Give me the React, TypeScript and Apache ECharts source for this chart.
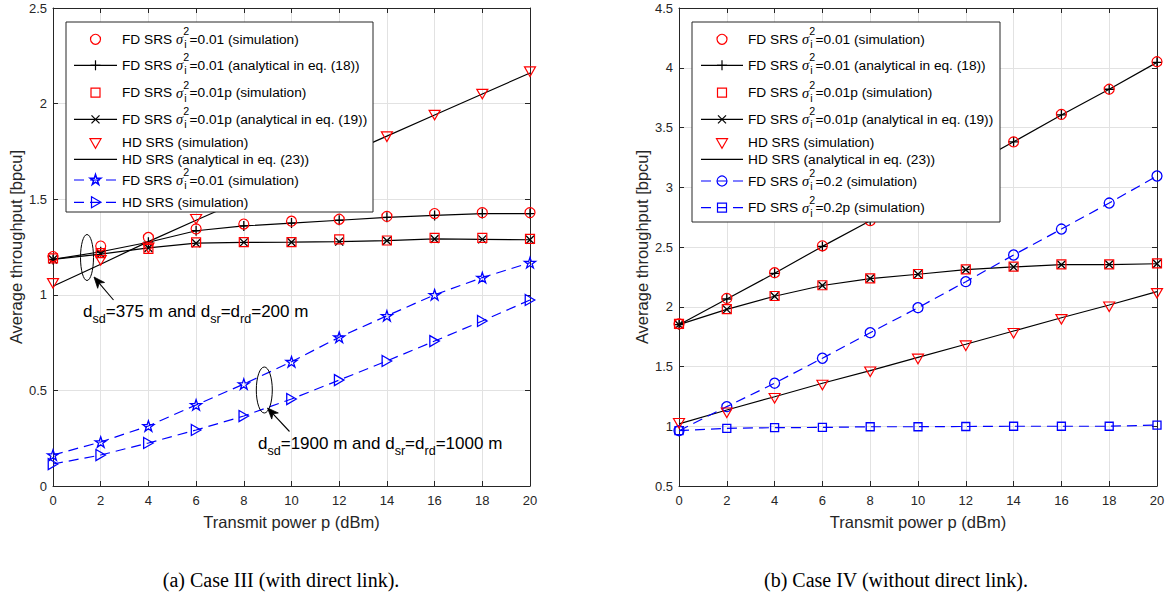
import React, { useEffect, useRef } from "react";
import * as echarts from "echarts";

// ---------- data ----------
const powerDbm = [0, 2, 4, 6, 8, 10, 12, 14, 16, 18, 20];
const yTicksCase3 = [0, 0.5, 1, 1.5, 2, 2.5];
const yTicksCase4 = [0.5, 1, 1.5, 2, 2.5, 3, 3.5, 4, 4.5];

// Case III (with direct link)
const c3FdSim = [1.2, 1.255, 1.3, 1.345, 1.37, 1.385, 1.395, 1.41, 1.425, 1.43, 1.43];
const c3FdAna = [1.185, 1.225, 1.275, 1.335, 1.36, 1.375, 1.39, 1.405, 1.415, 1.425, 1.425];
const c3FdPSim = [1.19, 1.218, 1.24, 1.274, 1.275, 1.276, 1.29, 1.284, 1.298, 1.298, 1.292];
const c3FdPAna = [1.185, 1.213, 1.245, 1.27, 1.274, 1.275, 1.278, 1.283, 1.292, 1.29, 1.288];
const c3HdSim = [1.06, 1.18, 1.245, 1.395, 1.5, 1.61, 1.72, 1.827, 1.94, 2.05, 2.167];
const c3HdAna = [1.045, 1.16, 1.278, 1.39, 1.5, 1.61, 1.72, 1.83, 1.94, 2.05, 2.16];
const c3FdFarSim = [0.162, 0.23, 0.314, 0.424, 0.533, 0.65, 0.778, 0.89, 1.0, 1.09, 1.168];
const c3HdFarSim = [0.115, 0.162, 0.225, 0.293, 0.366, 0.455, 0.554, 0.654, 0.758, 0.863, 0.973];

// Case IV (without direct link)
const c4FdSim = [1.856, 2.07, 2.285, 2.51, 2.72, 2.94, 3.16, 3.38, 3.61, 3.82, 4.05];
const c4FdAna = [1.85, 2.065, 2.28, 2.505, 2.72, 2.94, 3.16, 3.38, 3.605, 3.82, 4.045];
const c4FdPSim = [1.856, 1.98, 2.09, 2.18, 2.238, 2.274, 2.313, 2.335, 2.355, 2.355, 2.363];
const c4FdPAna = [1.85, 1.978, 2.088, 2.178, 2.236, 2.272, 2.31, 2.333, 2.352, 2.353, 2.36];
const c4HdSim = [1.025, 1.113, 1.234, 1.345, 1.456, 1.563, 1.674, 1.778, 1.895, 2.0, 2.112];
const c4HdAna = [1.02, 1.136, 1.247, 1.36, 1.465, 1.577, 1.686, 1.797, 1.908, 2.015, 2.126];
const c4Fd02Sim = [0.963, 1.164, 1.36, 1.569, 1.783, 1.992, 2.21, 2.433, 2.65, 2.868, 3.094];
const c4Fd02PSim = [0.963, 0.983, 0.988, 0.99, 0.996, 0.996, 0.998, 1.0, 1.0, 1.0, 1.01];

const xTitle = "Transmit power p (dBm)";
const yTitle = "Average throughput [bpcu]";
const captions = ["(a) Case III (with direct link).", "(b) Case IV (without direct link)."];

// ---------- style ----------
const RED = "#ff0000";
const BLUE = "#0000ff";
const BLACK = "#000000";
const AX = "#262626";
const GRIDC = "#e2e2e2";
const SANS = '"Liberation Sans", Arial, Helvetica, sans-serif';
const SERIF = '"Liberation Serif", "Times New Roman", serif';

const PLUS = "path://M5,0L5,10M0,5L10,5";
const CROSS = "path://M0,0L10,10M10,0L0,10";
const TRI_DOWN = "path://M0,0L10,0L5,8.66Z";
const TRI_RIGHT = "path://M0,0L8.66,5L0,10Z";
function starPts(cx: number, cy: number, R: number) {
  const pts: number[][] = [];
  for (let k = 0; k < 10; k++) {
    const r = k % 2 === 0 ? R : R * 0.382;
    const a = -Math.PI / 2 + (k * Math.PI) / 5;
    pts.push([cx + r * Math.cos(a), cy + r * Math.sin(a)]);
  }
  return pts;
}
const STAR = "path://" + starPts(5, 5, 5).map((p, i) => (i === 0 ? "M" : "L") + p[0].toFixed(2) + "," + p[1].toFixed(2)).join("") + "Z";

const pairs = (ys: number[]) => powerDbm.map((x, i) => [x, ys[i]]);

function sim(ys: number[], symbol: string, size: number, color: string, xi: number, yi: number) {
  return {
    type: "scatter",
    data: pairs(ys),
    symbol,
    symbolSize: size,
    symbolKeepAspect: true,
    xAxisIndex: xi,
    yAxisIndex: yi,
    clip: false,
    itemStyle: { color: "transparent", borderColor: color, borderWidth: 1.2, opacity: 1 },
    emphasis: { disabled: true },
    z: 4,
  };
}
function ana(ys: number[], symbol: string | null, size: number, color: string, xi: number, yi: number, dashed = false) {
  return {
    type: "line",
    data: pairs(ys),
    symbol: symbol ?? "none",
    symbolSize: size,
    showSymbol: !!symbol,
    showAllSymbol: true,
    symbolKeepAspect: true,
    xAxisIndex: xi,
    yAxisIndex: yi,
    clip: false,
    lineStyle: { color, width: 1.2, type: dashed ? [10, 6] : "solid" },
    itemStyle: { color: "transparent", borderColor: color, borderWidth: 1.3 },
    emphasis: { disabled: true },
    z: 3,
  };
}

// ---------- text helpers ----------
let ctx: CanvasRenderingContext2D | null = null;
function measure(t: string, size: number, family: string, style = "normal") {
  if (!ctx) ctx = document.createElement("canvas").getContext("2d");
  ctx!.font = `${style} ${size}px ${family}`;
  return ctx!.measureText(t).width;
}
function txt(x: number, y: number, t: string, size: number, family: string, style = "normal", z = 101, align = "left") {
  return {
    type: "text",
    x,
    y,
    z,
    style: { text: t, fontSize: size, fontFamily: family, fontStyle: style, fill: BLACK, textAlign: align, textVerticalAlign: "middle" },
  };
}
type Seg = { t?: string; italic?: boolean; family?: string; size?: number; sup?: string; sub?: string; subOnly?: string };
function run(x0: number, y: number, segs: Seg[], base: number, family: string, z = 101) {
  const out: any[] = [];
  let x = x0;
  for (const s of segs) {
    if (s.sup !== undefined) {
      const ss = base * 0.78;
      const w1 = measure(s.sup, ss, family);
      const w2 = measure(s.sub || "", ss, family);
      out.push(txt(x, y - 8, s.sup, ss, family, "normal", z));
      out.push(txt(x + 1, y + 5, s.sub || "", ss, family, "normal", z));
      x += Math.max(w1, w2 + 1) + 0.5;
    } else if (s.subOnly !== undefined) {
      const ss = base * 0.74;
      out.push(txt(x, y + 8, s.subOnly, ss, family, "normal", z));
      x += measure(s.subOnly, ss, family);
    } else {
      const fam = s.family ?? family;
      const size = s.size ?? base;
      const st = s.italic ? "italic" : "normal";
      out.push(txt(x, y, s.t || "", size, fam, st, z));
      x += measure(s.t || "", size, fam, st);
    }
  }
  return out;
}

function marker(kind: string | null, cx: number, cy: number, color: string) {
  const st = { fill: "none", stroke: color, lineWidth: 1.2 };
  const z = 102;
  switch (kind) {
    case "circle":
      return [{ type: "circle", z, shape: { cx, cy, r: 5 }, style: st }];
    case "square":
      return [{ type: "rect", z, shape: { x: cx - 4.5, y: cy - 4.5, width: 9, height: 9 }, style: st }];
    case "triDown":
      return [{ type: "polygon", z, shape: { points: [[cx - 5.5, cy - 4], [cx + 5.5, cy - 4], [cx, cy + 5.5]] }, style: st }];
    case "triRight":
      return [{ type: "polygon", z, shape: { points: [[cx - 4, cy - 5.5], [cx + 5.5, cy], [cx - 4, cy + 5.5]] }, style: st }];
    case "plus":
      return [
        { type: "line", z, shape: { x1: cx - 5, y1: cy, x2: cx + 5, y2: cy }, style: st },
        { type: "line", z, shape: { x1: cx, y1: cy - 5, x2: cx, y2: cy + 5 }, style: st },
      ];
    case "cross":
      return [
        { type: "line", z, shape: { x1: cx - 4, y1: cy - 4, x2: cx + 4, y2: cy + 4 }, style: st },
        { type: "line", z, shape: { x1: cx + 4, y1: cy - 4, x2: cx - 4, y2: cy + 4 }, style: st },
      ];
    case "star":
      return [{ type: "polygon", z, shape: { points: starPts(cx, cy, 5.5) }, style: { ...st, lineWidth: 1.5 } }];
    default:
      return [];
  }
}

type Row = { y: number; kind: string | null; color: string; line: null | "solid" | "dashed"; segs: Seg[] };
const sig = (rest: string): Seg[] => [{ t: "FD SRS " }, { t: "σ", italic: true, family: SERIF, size: 14.5 }, { sup: "2", sub: "i" }, { t: rest }];

function legend(bx: number, by: number, bw: number, bh: number, lx1: number, lx2: number, tx: number, rows: Row[]) {
  const out: any[] = [
    { type: "rect", z: 99, shape: { x: bx, y: by, width: bw, height: bh }, style: { fill: "#ffffff", stroke: AX, lineWidth: 1 } },
  ];
  const mx = (lx1 + lx2) / 2;
  for (const r of rows) {
    if (r.line) {
      out.push({
        type: "line",
        z: 101,
        shape: { x1: lx1, y1: r.y, x2: lx2, y2: r.y },
        style: { stroke: r.color, lineWidth: 1.2, lineDash: r.line === "dashed" ? [10, 6] : null },
      });
    }
    out.push(...marker(r.kind, mx, r.y, r.color));
    out.push(...run(tx, r.y, r.segs, 13.7, SANS));
  }
  return out;
}

function arrow(tx1: number, ty1: number, hx: number, hy: number) {
  const dx = hx - tx1, dy = hy - ty1;
  const L = Math.hypot(dx, dy);
  const ux = dx / L, uy = dy / L;
  const nx = -uy, ny = ux;
  const hl = 11, hw = 4.5, notch = 3;
  const bx = hx - ux * hl, by = hy - uy * hl;
  return [
    { type: "line", z: 50, shape: { x1: tx1, y1: ty1, x2: hx - ux * 6, y2: hy - uy * 6 }, style: { stroke: BLACK, lineWidth: 1.1 } },
    {
      type: "polygon",
      z: 50,
      shape: { points: [[hx, hy], [bx + nx * hw, by + ny * hw], [hx - ux * (hl - notch), hy - uy * (hl - notch)], [bx - nx * hw, by - ny * hw]] },
      style: { fill: BLACK, stroke: BLACK, lineWidth: 0.8 },
    },
  ];
}

function xAx(gi: number, bottom: boolean) {
  return {
    type: "value",
    gridIndex: gi,
    position: bottom ? "bottom" : "top",
    min: 0,
    max: 20,
    interval: 2,
    axisLine: { show: true, onZero: false, lineStyle: { color: AX, width: 1 } },
    axisTick: { show: true, inside: true, length: 5, lineStyle: { color: AX } },
    splitLine: { show: bottom, lineStyle: { color: GRIDC, width: 1 } },
    axisLabel: { show: bottom, margin: 8, color: AX, fontSize: 13, fontFamily: SANS },
    name: bottom ? xTitle : "",
    nameLocation: "middle",
    nameGap: 27,
    nameTextStyle: { color: AX, fontSize: 16.5, fontFamily: SANS },
  };
}
function yAx(gi: number, left: boolean, ticks: number[]) {
  return {
    type: "value",
    gridIndex: gi,
    position: left ? "left" : "right",
    min: ticks[0],
    max: ticks[ticks.length - 1],
    interval: ticks[1] - ticks[0],
    axisLine: { show: true, onZero: false, lineStyle: { color: AX, width: 1 } },
    axisTick: { show: true, inside: true, length: 5, lineStyle: { color: AX } },
    splitLine: { show: left, lineStyle: { color: GRIDC, width: 1 } },
    axisLabel: { show: left, margin: 6, color: AX, fontSize: 13, fontFamily: SANS },
    name: left ? yTitle : "",
    nameLocation: "middle",
    nameGap: 29,
    nameTextStyle: { color: AX, fontSize: 16.5, fontFamily: SANS },
  };
}

export default function App() {
  const ref = useRef<HTMLDivElement>(null);
  useEffect(() => {
    if (!ref.current) return;
    const chart = echarts.init(ref.current, null, { renderer: "svg" });

    const leftRows: Row[] = [
      { y: 39.3, kind: "circle", color: RED, line: null, segs: sig("=0.01 (simulation)") },
      { y: 65.3, kind: "plus", color: BLACK, line: "solid", segs: sig("=0.01 (analytical in eq. (18))") },
      { y: 92.7, kind: "square", color: RED, line: null, segs: sig("=0.01p (simulation)") },
      { y: 119.3, kind: "cross", color: BLACK, line: "solid", segs: sig("=0.01p (analytical in eq. (19))") },
      { y: 142.7, kind: "triDown", color: RED, line: null, segs: [{ t: "HD SRS (simulation)" }] },
      { y: 159.3, kind: null, color: BLACK, line: "solid", segs: [{ t: "HD SRS (analytical in eq. (23))" }] },
      { y: 180, kind: "star", color: BLUE, line: "dashed", segs: sig("=0.01 (simulation)") },
      { y: 202.3, kind: "triRight", color: BLUE, line: "dashed", segs: [{ t: "HD SRS (simulation)" }] },
    ];
    const rightRows: Row[] = [
      { y: 39.3, kind: "circle", color: RED, line: null, segs: sig("=0.01 (simulation)") },
      { y: 65.3, kind: "plus", color: BLACK, line: "solid", segs: sig("=0.01 (analytical in eq. (18))") },
      { y: 92.7, kind: "square", color: RED, line: null, segs: sig("=0.01p (simulation)") },
      { y: 119.3, kind: "cross", color: BLACK, line: "solid", segs: sig("=0.01p (analytical in eq. (19))") },
      { y: 142.7, kind: "triDown", color: RED, line: null, segs: [{ t: "HD SRS (simulation)" }] },
      { y: 159.3, kind: null, color: BLACK, line: "solid", segs: [{ t: "HD SRS (analytical in eq. (23))" }] },
      { y: 181, kind: "circle", color: BLUE, line: "dashed", segs: sig("=0.2 (simulation)") },
      { y: 207.7, kind: "square", color: BLUE, line: "dashed", segs: sig("=0.2p (simulation)") },
    ];

    const ann1: Seg[] = [{ t: "d" }, { subOnly: "sd" }, { t: "=375 m and d" }, { subOnly: "sr" }, { t: "=d" }, { subOnly: "rd" }, { t: "=200 m" }];
    const ann2: Seg[] = [{ t: "d" }, { subOnly: "sd" }, { t: "=1900 m and d" }, { subOnly: "sr" }, { t: "=d" }, { subOnly: "rd" }, { t: "=1000 m" }];

    const graphic: any[] = [
      ...legend(66, 22, 307, 190, 74, 117, 122, leftRows),
      ...legend(692, 22, 308, 200, 701, 743, 748, rightRows),
      { type: "ellipse", z: 50, shape: { cx: 87, cy: 257.5, rx: 6.5, ry: 23 }, style: { fill: "none", stroke: BLACK, lineWidth: 1 } },
      ...arrow(113.5, 300, 94, 277),
      ...run(83, 311, ann1, 17, SANS, 50),
      { type: "ellipse", z: 50, shape: { cx: 264.3, cy: 390, rx: 8, ry: 23 }, style: { fill: "none", stroke: BLACK, lineWidth: 1 } },
      ...arrow(289.5, 431.5, 267.5, 408),
      ...run(258, 443, ann2, 17, SANS, 50),
      txt(281, 580, captions[0], 20, SERIF, "normal", 50, "center"),
      txt(896, 580, captions[1], 20, SERIF, "normal", 50, "center"),
    ];

    chart.setOption({
      animation: false,
      backgroundColor: "#ffffff",
      grid: [
        { left: 53, top: 8, width: 477, height: 478 },
        { left: 679, top: 8, width: 478, height: 478 },
      ],
      xAxis: [xAx(0, true), xAx(0, false), xAx(1, true), xAx(1, false)],
      yAxis: [yAx(0, true, yTicksCase3), yAx(0, false, yTicksCase3), yAx(1, true, yTicksCase4), yAx(1, false, yTicksCase4)],
      series: [
        // Case III
        ana(c3FdAna, PLUS, 10, BLACK, 0, 0),
        ana(c3FdPAna, CROSS, 8, BLACK, 0, 0),
        ana(c3HdAna, null, 0, BLACK, 0, 0),
        sim(c3FdSim, "circle", 10, RED, 0, 0),
        sim(c3FdPSim, "rect", 9, RED, 0, 0),
        sim(c3HdSim, TRI_DOWN, 11, RED, 0, 0),
        ana(c3FdFarSim, STAR, 11, BLUE, 0, 0, true),
        ana(c3HdFarSim, TRI_RIGHT, 11, BLUE, 0, 0, true),
        // Case IV
        ana(c4FdAna, PLUS, 10, BLACK, 2, 2),
        ana(c4FdPAna, CROSS, 8, BLACK, 2, 2),
        ana(c4HdAna, null, 0, BLACK, 2, 2),
        sim(c4FdSim, "circle", 10, RED, 2, 2),
        sim(c4FdPSim, "rect", 9, RED, 2, 2),
        sim(c4HdSim, TRI_DOWN, 11, RED, 2, 2),
        ana(c4Fd02Sim, "circle", 10, BLUE, 2, 2, true),
        ana(c4Fd02PSim, "rect", 8, BLUE, 2, 2, true),
      ],
      graphic,
    });
    return () => chart.dispose();
  }, []);
  return <div ref={ref} style={{ position: "fixed", left: 0, top: 0, width: 1168, height: 599, background: "#fff" }} />;
}
